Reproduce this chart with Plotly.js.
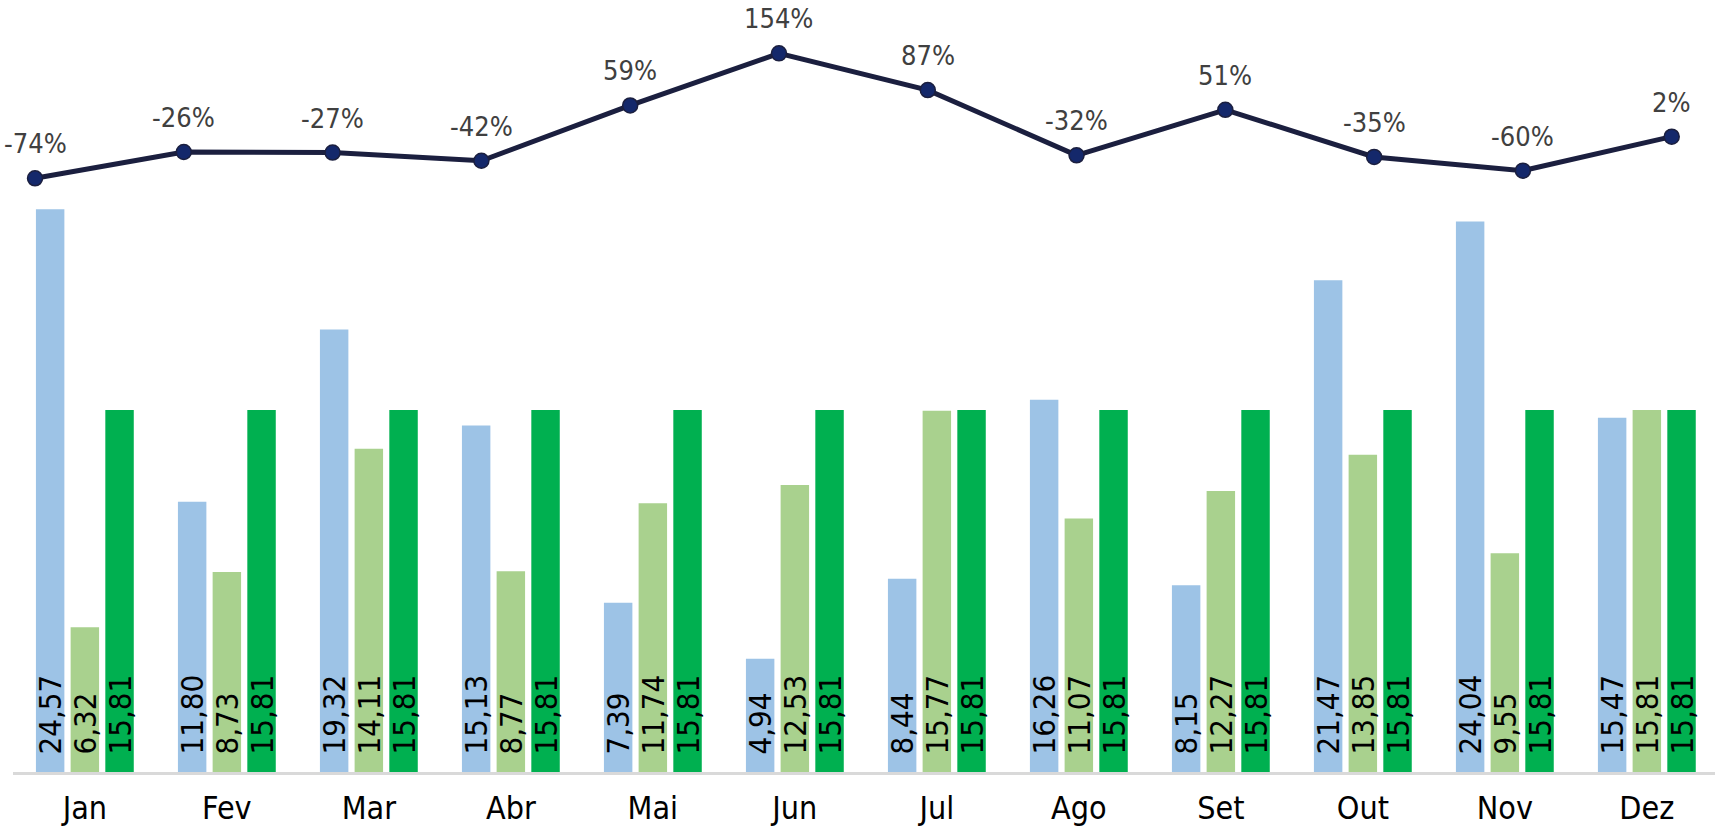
<!DOCTYPE html>
<html>
<head>
<meta charset="utf-8">
<script src="https://cdn.plot.ly/plotly-3.0.1.min.js"></script>
<style>html,body{margin:0;padding:0;background:#fff;}#chart{width:1715px;height:827px;}</style>
</head>
<body>
<div id="chart"></div>
<script>
const months = ["Jan","Fev","Mar","Abr","Mai","Jun","Jul","Ago","Set","Out","Nov","Dez"];
const serieA = [24.57, 11.80, 19.32, 15.13, 7.39, 4.94, 8.44, 16.26, 8.15, 21.47, 24.04, 15.47];
const serieB = [6.32, 8.73, 14.11, 8.77, 11.74, 12.53, 15.77, 11.07, 12.27, 13.85, 9.55, 15.81];
const serieC = [15.81, 15.81, 15.81, 15.81, 15.81, 15.81, 15.81, 15.81, 15.81, 15.81, 15.81, 15.81];
const variacao = [-0.74, -0.26, -0.27, -0.42, 0.59, 1.54, 0.87, -0.32, 0.51, -0.35, -0.60, 0.02];

const FONT = "'DejaVu Sans Condensed', 'DejaVu Sans', sans-serif";
const fmt = v => '\u2009\u00a0' + v.toFixed(2).replace('.', ',');
const pct = v => Math.round(v * 100) + '%';

function barTrace(vals, color, name) {
  return {
    type: 'bar', x: months, y: vals, name: name,
    marker: {color: color},
    text: vals.map(fmt),
    textposition: 'inside',
    insidetextanchor: 'start',
    textangle: -90,
    constraintext: 'none',
    insidetextfont: {family: FONT, size: 31, color: '#000000'},
    hoverinfo: 'skip', cliponaxis: false
  };
}

const traces = [
  barTrace(serieA, '#9DC3E6', 'A'),
  barTrace(serieB, '#A9D18E', 'B'),
  barTrace(serieC, '#00B050', 'C'),
  {
    type: 'scatter', mode: 'lines+markers', x: months, y: variacao,
    xaxis: 'x2', yaxis: 'y2',
    line: {color: '#1B1F3F', width: 5},
    marker: {size: 15, color: '#14286B', line: {color: '#1B1F3F', width: 1.5}},
    hoverinfo: 'skip', cliponaxis: false
  }
];

const annotations = months.map((m, i) => ({
  x: m, y: variacao[i], xref: 'x2', yref: 'y2',
  text: pct(variacao[i]), showarrow: false,
  yanchor: 'bottom', xanchor: 'center', yshift: 17,
  font: {family: FONT, size: 27, color: '#404040'}
}));

const layout = {
  width: 1715, height: 827,
  margin: {l: 13, r: 0, t: 0, b: 55},
  paper_bgcolor: '#ffffff', plot_bgcolor: '#ffffff',
  showlegend: false,
  barmode: 'group', bargap: 0.267, bargroupgap: 0.18,
  xaxis: {
    type: 'category', range: [-0.506, 11.48],
    showgrid: false, zeroline: false,
    showline: true, linecolor: '#D9D9D9', linewidth: 2.5,
    ticks: '', tickfont: {family: FONT, size: 32, color: '#000000'},
    ticklabelstandoff: 6, fixedrange: true
  },
  yaxis: {
    range: [0, 33.71], visible: false, showgrid: false, zeroline: false, fixedrange: true
  },
  xaxis2: {
    type: 'category', overlaying: 'x', range: [-0.148, 11.291],
    visible: false, showgrid: false, zeroline: false, fixedrange: true
  },
  yaxis2: {
    overlaying: 'y', range: [-11.574, 2.514],
    visible: false, showgrid: false, zeroline: false, fixedrange: true
  },
  annotations: annotations
};

Plotly.newPlot('chart', traces, layout, {displayModeBar: false, staticPlot: true});
</script>
</body>
</html>
